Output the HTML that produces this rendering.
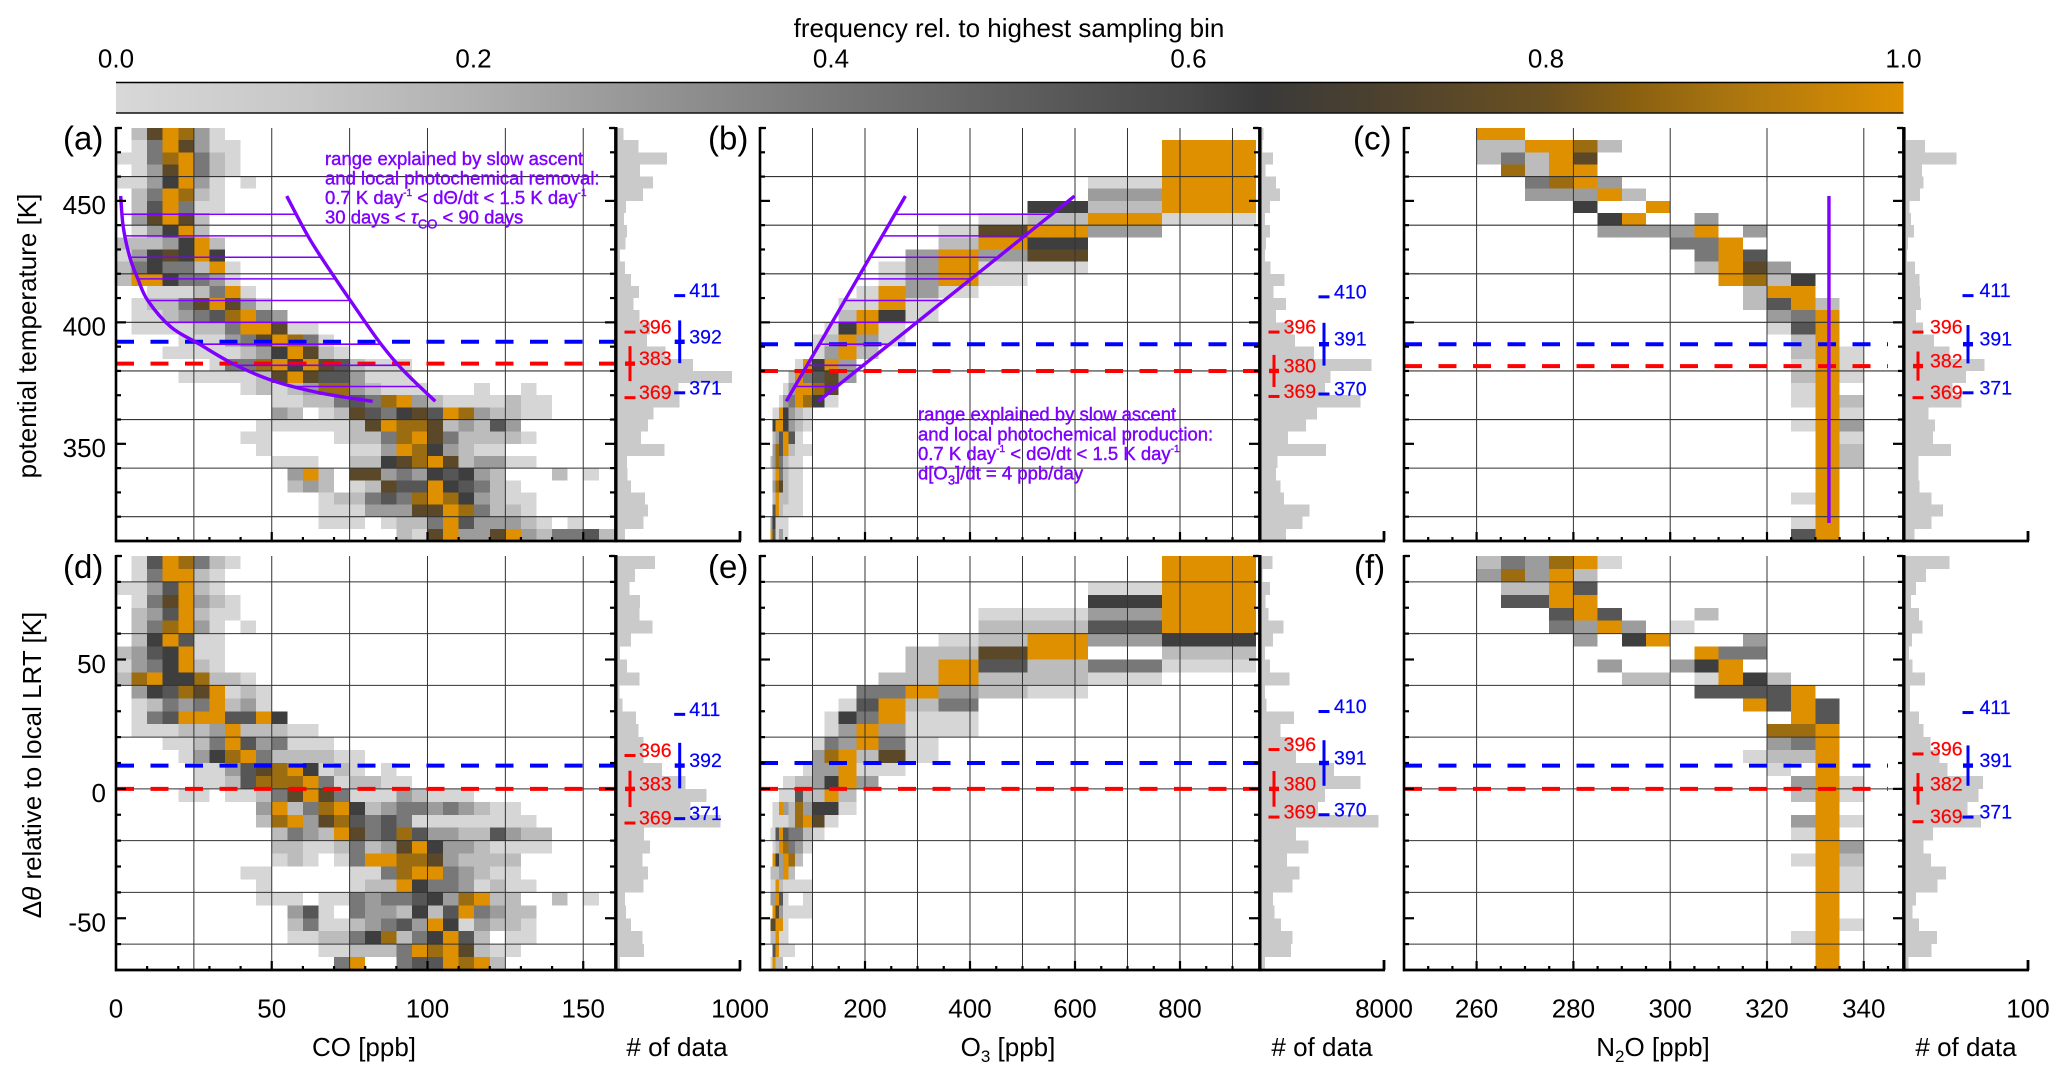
<!DOCTYPE html>
<html lang="en">
<head>
<meta charset="utf-8">
<title>Tracer frequency distributions versus potential temperature</title>
<style>
html,body{margin:0;padding:0;background:#fff;}
svg{display:block;font-family:"Liberation Sans",sans-serif;}
.t26{font-size:26px;fill:#000;}
.purple{font-size:18.5px;fill:#7f00ff;stroke:#7f00ff;stroke-width:.4px;}
</style>
</head>
<body>
<svg id="chart" xmlns="http://www.w3.org/2000/svg" width="2067" height="1082" viewBox="0 0 2067 1082">
  <defs><linearGradient id="cbGrad" x1="0" x2="1" y1="0" y2="0"></linearGradient></defs>
  <rect x="0" y="0" width="2067" height="1082" fill="#fff"/>
  <text class="t26" x="1009" y="37" text-anchor="middle">frequency rel. to highest sampling bin</text>
  <rect x="116" y="83" width="1787.5" height="30" fill="url(#cbGrad)"/>
  <line x1="116" x2="1903.5" y1="82.5" y2="82.5" stroke="#000" stroke-width="1.6"/>
  <line x1="116" x2="1903.5" y1="113" y2="113" stroke="#111" stroke-width="1.6"/>
  <g id="plots"></g>

  <text class="t26" transform="translate(36,336) rotate(-90)" text-anchor="middle">potential temperature [K]</text>
  <text class="t26" transform="translate(41,765) rotate(-90)" text-anchor="middle">Δ<tspan font-style="italic">θ</tspan> relative to local LRT [K]</text>

  <text class="t26" x="364" y="1056" text-anchor="middle">CO [ppb]</text>
  <text class="t26" x="1008" y="1056" text-anchor="middle">O<tspan dy="6" font-size="17">3</tspan><tspan dy="-6"> [ppb]</tspan></text>
  <text class="t26" x="1653" y="1056" text-anchor="middle">N<tspan dy="6" font-size="17">2</tspan><tspan dy="-6">O [ppb]</tspan></text>
  <text class="t26" x="677" y="1056" text-anchor="middle"># of data</text>
  <text class="t26" x="1322" y="1056" text-anchor="middle"># of data</text>
  <text class="t26" x="1966" y="1056" text-anchor="middle"># of data</text>

  <g id="annotations">
  <g class="purple">
    <text x="325" y="165">range explained by slow ascent</text>
    <text x="325" y="184.5">and local photochemical removal:</text>
    <text x="325" y="204">0.7 K day<tspan dy="-8" font-size="10">-1</tspan><tspan dy="8">  &lt; dΘ/dt &lt; 1.5 K day</tspan><tspan dy="-8" font-size="10">-1</tspan></text>
    <text x="325" y="223.5">30 days &lt; <tspan font-style="italic">τ</tspan><tspan dy="5" font-size="13">CO</tspan><tspan dy="-5"> &lt; 90 days</tspan></text>
  </g>
  <g class="purple">
    <text x="918" y="420.5">range explained by slow ascent</text>
    <text x="918" y="440.5">and local photochemical production:</text>
    <text x="918" y="460">0.7 K day<tspan dy="-8" font-size="10">-1</tspan><tspan dy="8">  &lt; dΘ/dt &lt; 1.5 K day</tspan><tspan dy="-8" font-size="10">-1</tspan></text>
    <text x="918" y="479.5">d[O<tspan dy="5" font-size="13">3</tspan><tspan dy="-5">]/dt = 4 ppb/day</tspan></text>
  </g>
  </g>
</svg>
<script>
// ---------- bins ----------
const coEdges = [0,5,10,15,20,25,30,35,40,45,50,55,60,65,70,75,80,85,90,95,100,105,110,115,120,125,130,135,140,145,150,155,160];
const o3Edges = [20,24,29.5,36,44,54,67,82,100,123,150,184,226,277,340,416,510,625,766,945];
const n2oEdges = [260,265,270,275,280,285,290,295,300,305,310,315,320,325,330,335,340];
const thetaEdges = [480,475,470,465,460,455,450,445,440,435,430,425,420,415,410,405,400,395,390,385,380,375,370,365,360,355,350,345,340,335,330,325,320,315,310];
const dThetaEdges = [90,85,80,75,70,65,60,55,50,45,40,35,30,25,20,15,10,5,0,-5,-10,-15,-20,-25,-30,-35,-40,-45,-50,-55,-60,-65,-70];

// frequency (relative to highest bin) represented by each level digit in the heat arrays
const levelFreq = [0,0.01,0.15,0.27,0.4,0.54,0.63,0.75,0.88,1];

// ---------- heat maps: rows top-down, columns follow the edges arrays ----------
const heatA = [
[0,2,7,9,8,3,1],
[0,1,4,9,7,3,1,1],
[1,1,4,8,9,4,2,1],
[0,1,3,7,9,4,2,1],
[1,1,3,6,9,3,1,0,1],
[0,2,4,9,8,2,1],
[0,2,5,9,4,1,1],
[0,3,7,9,7,2],
[0,1,3,6,9,2],
[2,2,2,3,6,9,2],
[1,3,6,7,6,9,6],
[2,4,6,4,4,2,9,1],
[2,9,9,6,4,4,3,1],
[0,0,1,1,1,2,4,9,1],
[0,1,2,2,4,7,9,7,3,1],
[0,1,1,2,3,4,5,8,9,4,3],
[0,1,1,1,1,2,2,4,9,9,7,1,1],
[0,0,0,0,1,1,1,3,4,7,9,8,4,1],
[0,0,0,1,1,1,1,1,2,3,6,9,7,2,1],
[0,0,0,0,0,0,1,4,4,8,9,6,9,7,5,2,1,1,1],
[0,0,0,0,1,1,1,1,1,2,7,9,7,5,5,3,1,1,1],
[0,0,0,0,0,0,0,0,1,2,1,2,3,8,8,3,2,1,1,1,0,0,0,1,0,0,1],
[0,0,0,0,0,0,0,0,0,0,1,1,2,2,4,5,4,8,9,3,2,1,1,1,1,2,1,1],
[0,0,0,0,0,0,0,0,0,0,3,2,0,1,2,7,5,4,6,7,5,9,8,3,2,2,1,1],
[0,0,0,0,0,0,0,0,0,1,1,1,1,1,1,2,7,9,8,8,7,2,3,2,5,3],
[0,0,0,0,0,0,0,0,1,1,0,0,0,0,1,2,2,4,8,9,7,4,2,2,2,2,1],
[0,0,0,0,0,0,0,0,0,1,0,0,0,0,0,1,1,3,9,8,6,3,2,1,1],
[0,0,0,0,0,0,0,0,0,0,1,1,1,0,0,2,2,6,7,8,9,7,2,3,3,1,1],
[0,0,0,0,0,0,0,0,0,0,0,3,9,2,0,7,7,3,4,3,6,5,6,3,2,0,0,0,2,0,1],
[0,0,0,0,0,0,0,0,0,0,0,2,3,2,0,1,2,7,5,5,9,6,5,4,2,1],
[0,0,0,0,0,0,0,0,0,0,0,0,0,1,2,2,4,5,4,8,9,8,6,3,2,1,1],
[0,0,0,0,0,0,0,0,0,0,0,0,0,1,1,1,3,3,3,7,7,9,8,4,2,2,1],
[0,0,0,0,0,0,0,0,0,0,0,0,0,1,1,1,0,1,2,2,4,9,5,3,3,3,2,1,0,1],
[0,0,0,0,0,0,0,0,0,0,0,0,0,0,0,0,0,0,2,1,7,9,3,3,7,9,3,2,4,4,5,2]
];
const heatB = [
[],
[0,0,0,0,0,0,0,0,0,0,0,0,0,0,0,0,0,0,9],
[0,0,0,0,0,0,0,0,0,0,0,0,0,0,0,0,0,0,9],
[0,0,0,0,0,0,0,0,0,0,0,0,0,0,0,0,0,0,9],
[0,0,0,0,0,0,0,0,0,0,0,0,0,0,0,0,0,1,9],
[0,0,0,0,0,0,0,0,0,0,0,0,0,0,0,0,0,3,9],
[0,0,0,0,0,0,0,0,0,0,0,0,0,0,0,0,6,2,9],
[0,0,0,0,0,0,0,0,0,0,0,0,0,0,0,1,2,9,1],
[0,0,0,0,0,0,0,0,0,0,0,0,0,0,1,7,9,3],
[0,0,0,0,0,0,0,0,0,0,0,0,0,0,2,9,6],
[0,0,0,0,0,0,0,0,0,0,0,0,0,3,9,3,7],
[0,0,0,0,0,0,0,0,0,0,0,0,1,3,9,1,1],
[0,0,0,0,0,0,0,0,0,0,0,0,1,3,9,1],
[0,0,0,0,0,0,0,0,0,0,0,1,9,3,1],
[0,0,0,0,0,0,0,0,0,0,1,1,9,1],
[0,0,0,0,0,0,0,0,0,0,2,9,6,1],
[0,0,0,0,0,0,0,0,0,1,6,9,1],
[0,0,0,0,0,0,0,0,1,2,9,3,1],
[0,0,0,0,0,0,0,0,1,3,9,2],
[0,0,0,0,0,0,1,9,6,9,3],
[0,0,0,0,0,2,9,4,5,7,3],
[0,0,0,0,1,3,9,9,8,7],
[0,0,0,1,3,4,9,8,6,1],
[0,1,1,9,6,3,2,1],
[0,6,9,9,6,3,2,1],
[0,2,3,5,9,5,1],
[0,3,8,5,9,2,1,1],
[2,3,8,4,2,1,1],
[0,2,9,4,2,1,1],
[0,3,8,7,2,1,1],
[0,2,9,2,2,1,1],
[0,5,9,2,1,1,1],
[3,6,1,1,1],
[9,5,1,3,1]
];
const heatC = [
[9,9],
[2,2,9,9,8,2],
[2,4,2,9,7],
[0,8,2,9,9],
[0,0,4,8,9,3],
[0,0,3,3,3,9,2],
[0,0,0,0,6,0,0,9],
[0,0,0,0,0,6,9,0,0,3],
[0,0,0,0,0,3,3,3,3,9,0,3],
[0,0,0,0,0,0,0,0,4,4,9],
[0,0,0,0,0,0,0,0,0,4,9,5],
[0,0,0,0,0,0,0,0,0,2,9,7,3],
[0,0,0,0,0,0,0,0,0,0,9,8,2,6],
[0,0,0,0,0,0,0,0,0,0,0,2,9,9],
[0,0,0,0,0,0,0,0,0,0,0,2,5,9,2],
[0,0,0,0,0,0,0,0,0,0,0,0,3,4,9],
[0,0,0,0,0,0,0,0,0,0,0,0,1,5,9],
[0,0,0,0,0,0,0,0,0,0,0,0,0,2,9],
[0,0,0,0,0,0,0,0,0,0,0,0,0,2,9,1],
[0,0,0,0,0,0,0,0,0,0,0,0,0,1,9,1],
[0,0,0,0,0,0,0,0,0,0,0,0,0,2,9,1],
[0,0,0,0,0,0,0,0,0,0,0,0,0,1,9],
[0,0,0,0,0,0,0,0,0,0,0,0,0,1,9,2],
[0,0,0,0,0,0,0,0,0,0,0,0,0,0,9,1],
[0,0,0,0,0,0,0,0,0,0,0,0,0,1,9,3],
[0,0,0,0,0,0,0,0,0,0,0,0,0,0,9,1],
[0,0,0,0,0,0,0,0,0,0,0,0,0,0,9,2],
[0,0,0,0,0,0,0,0,0,0,0,0,0,0,9,2],
[0,0,0,0,0,0,0,0,0,0,0,0,0,0,9],
[0,0,0,0,0,0,0,0,0,0,0,0,0,0,9],
[0,0,0,0,0,0,0,0,0,0,0,0,0,1,9],
[0,0,0,0,0,0,0,0,0,0,0,0,0,0,9],
[0,0,0,0,0,0,0,0,0,0,0,0,0,1,9],
[0,0,0,0,0,0,0,0,0,0,0,0,0,5,9]
];
const heatD = [
[0,1,5,9,8,4,2,1],
[0,1,4,9,9,2,1],
[1,1,3,5,9,2,1],
[0,1,4,7,9,3,2,1],
[0,2,3,5,9,2,1,1],
[0,2,4,8,9,3,1,0,1],
[0,2,6,9,5,1,1],
[2,3,5,6,9,1,1],
[1,3,4,6,9,2,1],
[2,8,9,6,6,8,2,2,1],
[0,3,6,5,8,7,9,1,2,1],
[0,1,2,4,3,4,9,2,3,1],
[0,1,4,5,9,9,9,5,5,9,6],
[0,1,1,1,2,2,3,9,2,2,2,1,1],
[0,0,0,1,1,2,4,9,5,3,4,1,1,1],
[0,0,0,0,1,3,6,8,9,4,2,2,2,2,1,1],
[0,0,0,0,0,1,1,3,5,7,8,9,6,1,2,1,0,1],
[0,0,0,0,0,1,1,2,5,8,8,8,9,4,1,2,2,1,1],
[0,0,0,0,1,1,0,1,1,2,4,7,9,7,4,1,1,1,3,2,1,1,1],
[0,0,0,0,0,0,0,0,0,3,9,2,4,8,9,6,2,3,4,4,3,4,3,2,1,1],
[0,0,0,0,0,0,0,0,0,2,8,9,3,7,8,5,4,5,4,1,1,1,1,1,1,1,1],
[0,0,0,0,0,0,0,0,0,0,2,4,3,2,9,7,4,5,8,5,3,3,2,2,5,3,2,2],
[0,0,0,0,0,0,0,0,0,0,2,2,1,1,2,4,2,3,7,9,6,3,3,2,1,1,1,1],
[0,0,0,0,0,0,0,0,0,0,1,2,1,0,1,4,9,9,8,8,7,3,2,2,2,2],
[0,0,0,0,0,0,0,0,1,1,0,0,0,0,0,1,1,4,8,9,9,4,3,2,1,1],
[0,0,0,0,0,0,0,0,0,1,0,0,0,0,0,1,2,2,9,6,4,4,3,1,2,1,1],
[0,0,0,0,0,0,0,0,0,1,1,1,0,1,1,4,3,4,4,5,6,3,8,9,2,2,0,0,2,0,1],
[0,0,0,0,0,0,0,0,0,0,0,3,5,1,0,4,3,3,2,6,2,5,9,4,3,2,2],
[0,0,0,0,0,0,0,0,0,0,0,2,4,1,1,2,3,4,5,3,9,6,1,3,2,2,1],
[0,0,0,0,0,0,0,0,0,0,0,1,1,2,2,4,6,8,2,4,6,9,5,2,0,1,1],
[0,0,0,0,0,0,0,0,0,0,0,0,0,1,1,2,2,2,4,9,8,9,7,2,1,1],
[0,0,0,0,0,0,0,0,0,0,0,0,0,0,4,9,0,0,4,5,5,9,8,9,2]
];
const heatE = [
[0,0,0,0,0,0,0,0,0,0,0,0,0,0,0,0,0,0,9],
[0,0,0,0,0,0,0,0,0,0,0,0,0,0,0,0,0,0,9],
[0,0,0,0,0,0,0,0,0,0,0,0,0,0,0,0,0,1,9],
[0,0,0,0,0,0,0,0,0,0,0,0,0,0,0,0,0,6,9],
[0,0,0,0,0,0,0,0,0,0,0,0,0,0,0,1,1,3,9],
[0,0,0,0,0,0,0,0,0,0,0,0,0,0,0,2,2,5,9],
[0,0,0,0,0,0,0,0,0,0,0,0,0,0,1,2,9,3,6],
[0,0,0,0,0,0,0,0,0,0,0,0,0,2,2,7,9,0,2],
[0,0,0,0,0,0,0,0,0,0,0,0,0,2,9,5,2,4,1],
[0,0,0,0,0,0,0,0,0,0,0,0,2,2,9,2,2,1],
[0,0,0,0,0,0,0,0,0,0,0,4,4,9,3,2,1],
[0,0,0,0,0,0,0,0,0,0,1,5,9,2,4],
[0,0,0,0,0,0,0,0,0,1,6,4,9,1,1],
[0,0,0,0,0,0,0,0,0,1,3,9,3,1,1],
[0,0,0,0,0,0,0,0,1,4,3,9,4,1],
[0,0,0,0,0,0,0,0,3,8,9,2,7,1],
[0,0,0,0,0,0,0,1,3,3,9,1,1],
[0,0,0,0,1,1,2,2,3,6,9,3],
[0,0,0,1,1,1,5,2,2,9,2],
[0,1,1,9,3,2,8,3,6,6,1],
[0,1,1,1,1,2,8,9,7,1],
[1,1,5,9,5,4,4,2,1],
[0,1,2,9,8,4,3,1],
[0,9,6,3,9,8,2],
[2,2,2,3,9,2],
[1,1,9,2,1,1,1,1],
[3,3,9,5,1,0,0,1],
[0,9,7,3,1,1,1,1],
[7,7,9,9,1],
[2,2,9,1,1],
[0,5,9,1,1,1],
[1,9,2,2]
];
const heatF = [
[2,4,3,8,9,1],
[3,8,3,9,2],
[0,2,2,9,5],
[0,5,5,9,9],
[0,0,0,5,9,5,0,0,0,2],
[0,0,0,4,3,9,3,0,1],
[0,0,0,0,3,0,6,9,0,0,0,3],
[0,0,0,0,0,0,0,0,0,9,4,4],
[0,0,0,0,0,3,0,0,3,6,9],
[0,0,0,0,0,0,2,2,0,1,9,6,2],
[0,0,0,0,0,0,0,0,0,5,5,5,5,9],
[0,0,0,0,0,0,0,0,0,0,0,9,5,9,5],
[0,0,0,0,0,0,0,0,0,0,0,0,0,9,5],
[0,0,0,0,0,0,0,0,0,0,0,0,8,8,9],
[0,0,0,0,0,0,0,0,0,0,0,0,3,4,9],
[0,0,0,0,0,0,0,0,0,0,0,1,2,2,9],
[0,0,0,0,0,0,0,0,0,0,0,0,1,0,9],
[0,0,0,0,0,0,0,0,0,0,0,0,0,3,9,1],
[0,0,0,0,0,0,0,0,0,0,0,0,0,2,9,1],
[0,0,0,0,0,0,0,0,0,0,0,0,0,0,9],
[0,0,0,0,0,0,0,0,0,0,0,0,0,3,9,1],
[0,0,0,0,0,0,0,0,0,0,0,0,0,1,9],
[0,0,0,0,0,0,0,0,0,0,0,0,0,0,9,3],
[0,0,0,0,0,0,0,0,0,0,0,0,0,1,9,2],
[0,0,0,0,0,0,0,0,0,0,0,0,0,0,9,1],
[0,0,0,0,0,0,0,0,0,0,0,0,0,0,9,1],
[0,0,0,0,0,0,0,0,0,0,0,0,0,0,9],
[0,0,0,0,0,0,0,0,0,0,0,0,0,0,9],
[0,0,0,0,0,0,0,0,0,0,0,0,0,0,9,1],
[0,0,0,0,0,0,0,0,0,0,0,0,0,1,9],
[0,0,0,0,0,0,0,0,0,0,0,0,0,0,9],
[0,0,0,0,0,0,0,0,0,0,0,0,0,0,9]
];

// ---------- histograms (# of data per vertical bin, top-down) ----------
const histA = [54,177,408,190,293,212,76,60,82,73,27,68,114,182,136,185,272,245,394,617,937,503,508,299,253,198,386,82,87,114,231,253,217,68];
const histB = [202,144,806,346,1008,1267,634,288,634,374,288,662,1555,864,1642,1008,2016,2246,3456,7200,4522,4176,6480,3658,2938,1786,4234,1094,1008,1296,1526,3168,2736,1670];
const histC = [0.7,16.3,41.7,13.8,14.9,12,3.6,4.7,7.2,2.5,1.8,8,11.6,12,13,9,14.5,23.6,36.2,64.5,49.6,38.8,46,19.2,24.3,22.8,37.3,10.9,10.9,11.6,21.7,30.8,21.7,7.6];
const histD = [312,149,103,190,185,291,114,27,82,185,22,49,158,177,217,217,367,557,728,598,842,223,272,209,253,217,68,76,114,209,223,27];
const histE = [778,144,634,346,518,1498,806,288,634,1872,288,403,2160,1296,2016,2304,4752,6480,4176,3744,7632,2304,3110,1728,2534,2074,806,922,1325,2074,1987,288];
const histF = [36.2,17,9,4.7,11.2,14.1,5.8,3.3,6.2,16.3,4,4,11.2,14.9,20.7,27.9,34.4,63.4,59.8,50.7,61.6,22.8,14.9,21,33.3,26.4,9,6.2,11.2,26.1,21.7,2.9];

// ---------- tropopause statistics: [low, mean, high, half-length of mean bar] in axis units ----------
const redStatsA = [369,383,396,7.2];
const blueStatsA = [371,392,411,8.8];
const redStatsB = [369.5,380,396,6.6];
const blueStatsB = [370.5,391,410.5,8.8];
const redStatsC = [369,382,396,6];
const blueStatsC = [371,391,411,7.9];
const redStatsD = [-13.2,0,12.9,7];
const blueStatsD = [-11.5,9,28.8,8.8];
const redStatsE = [-10.9,0,15.2,6.9];
const blueStatsE = [-10,10,29.9,8.8];
const redStatsF = [-12.7,0,13.5,6.1];
const blueStatsF = [-10.9,9,29.5,7.8];
const redLabelsA = ['369','383','396'];
const blueLabelsA = ['371','392','411'];
const redLabelsB = ['369','380','396'];
const blueLabelsB = ['370','391','410'];
const redLabelsC = ['369','382','396'];
const blueLabelsC = ['371','391','411'];

// ---------- model curves ----------
const coLeftPpb = [1.5,2.35,4.5,7,10.2,17.7,26.8,37.5,50.3,65.3,82.4];
const coLeftTheta = [452,439,426.5,418,409,398,391,383,376,371,367.5];
const coRightPpb = [54.8,62,69.6,75.4,84.5,92,102.5];
const coRightTheta = [452,434.7,419.6,408.7,392,380.5,367.5];
const o3LeftPpb = [50,277];
const o3RightPpb = [111,599];
const o3LineTheta = [367.5,452];
const n2oLinePpb = [332.8,332.8];
const n2oLineTheta = [317.4,452];
const hatchTheta = [444.5,435.6,426.8,417.9,409,400,391,382.3,373.6];

// ---------- ticks ----------
const thetaTicks = [320,330,340,350,360,370,380,390,400,410,420,430,440,450,460,470,480];
const thetaMajor = [350,400,450];
const thetaGrid = [320,340,360,380,400,420,440,460];
const dThetaTicks = [-60,-50,-40,-30,-20,-10,0,10,20,30,40,50,60,70,80,90];
const dThetaMajor = [-50,0,50];
const dThetaGrid = [-60,-40,-20,0,20,40,60,80];
const coTicks = [10,20,30,40,50,60,70,80,90,100,110,120,130,140,150];
const coMajor = [50,100,150];
const coGrid = [25,50,75,100,125,150];
const coTickLabels = [0,50,100,150];
const o3Ticks = [50,100,150,200,250,300,350,400,450,500,550,600,650,700,750,800,850,900];
const o3Major = [200,400,600,800];
const o3Grid = [100,200,300,400,500,600,700,800,900];
const o3TickLabels = [200,400,600,800];
const n2oTicks = [250,255,260,265,270,275,280,285,290,295,300,305,310,315,320,325,330,335,340,345];
const n2oMajor = [260,280,300,320,340];
const n2oGrid = [260,280,300,320,340];
const n2oTickLabels = [260,280,300,320,340];
const colorbarTicks = [0,0.2,0.4,0.6,0.8,1];
const colorbarLabels = ['0.0','0.2','0.4','0.6','0.8','1.0'];

// ---------- colormap ----------
const cmapPos = [0,0.1,0.2,0.3,0.4,0.5,0.6,0.64,0.7,0.8,0.85,0.9,1];
const cmapRgb = [[216,216,216],[200,200,200],[176,176,176],[148,148,148],[120,120,120],[95,95,95],[72,72,72],[58,58,58],[74,64,48],[106,80,32],[138,96,16],[168,116,16],[223,144,0]];
function colormap(v){
  let i=0;
  while(i<cmapPos.length-2 && v>cmapPos[i+1]) i++;
  const t=Math.max(0,Math.min(1,(v-cmapPos[i])/(cmapPos[i+1]-cmapPos[i])));
  const c=cmapRgb[i].map((a,k)=>Math.round(a+(cmapRgb[i+1][k]-a)*t));
  return 'rgb('+c.join(',')+')';
}

const NS='http://www.w3.org/2000/svg';
function mk(parent,tag,attrs){
  const e=document.createElementNS(NS,tag);
  for(const k in attrs) e.setAttribute(k,attrs[k]);
  parent.appendChild(e);
  return e;
}
function linear(d0,d1,r0,r1){ return v=>r0+(v-d0)/(d1-d0)*(r1-r0); }
function interpX(xs,ths,th){
  for(let i=0;i<ths.length-1;i++){
    const a=ths[i],b=ths[i+1];
    if((th>=Math.min(a,b))&&(th<=Math.max(a,b))) return xs[i]+(th-a)/(b-a)*(xs[i+1]-xs[i]);
  }
  return xs[0];
}
// smooth Catmull-Rom path through scaled points
function smoothPath(pts){
  let d='M'+pts[0][0]+' '+pts[0][1];
  for(let i=0;i<pts.length-1;i++){
    const p0=pts[Math.max(0,i-1)],p1=pts[i],p2=pts[i+1],p3=pts[Math.min(pts.length-1,i+2)];
    const c1x=p1[0]+(p2[0]-p0[0])/6,c1y=p1[1]+(p2[1]-p0[1])/6;
    const c2x=p2[0]-(p3[0]-p1[0])/6,c2y=p2[1]-(p3[1]-p1[1])/6;
    d+=' C'+c1x+' '+c1y+' '+c2x+' '+c2y+' '+p2[0]+' '+p2[1];
  }
  return d;
}

const root=document.getElementById('chart');
const plots=document.getElementById('plots');

// colorbar gradient and ticks
const grad=document.getElementById('cbGrad');
cmapPos.forEach((p,i)=>{
  const s=mk(grad,'stop',{offset:p,'stop-color':colormap(p)});
  
  
});
const cbX=linear(0,1,116,1903.5);
colorbarTicks.forEach((v,i)=>{
  const t=mk(plots,'text',{x:cbX(v),y:67.5,'text-anchor':'middle','font-size':26});
  
  
  t.textContent=colorbarLabels[i];
});

const rowsTop={y0:128,y1:541,d0:480,d1:310};
const rowsBottom={y0:556,y1:970,d0:90,d1:-70};
const colCO={x0:116,x1:615,d0:0,d1:160.2,hx0:616.7,hx1:740,hmax:1000,edges:coEdges,ticks:coTicks,major:coMajor,grid:coGrid,dashEnd:160.2,tickLabels:coTickLabels,histLabel:'1000',redX:630,blueX:679.7,redTextX:639,blueTextX:689.3};
const colO3={x0:760,x1:1259,d0:0,d1:950.5,hx0:1260.4,hx1:1384,hmax:8000,edges:o3Edges,ticks:o3Ticks,major:o3Major,grid:o3Grid,dashEnd:950.5,tickLabels:o3TickLabels,histLabel:'8000',redX:1274,blueX:1324,redTextX:1283.6,blueTextX:1334};
const colN2O={x0:1404,x1:1903,d0:245,d1:348.1,hx0:1905,hx1:2028,hmax:100,edges:n2oEdges,ticks:n2oTicks,major:n2oMajor,grid:n2oGrid,dashEnd:345,tickLabels:n2oTickLabels,histLabel:'100',redX:1918,blueX:1968,redTextX:1930,blueTextX:1979.5};

const panels=[
 {id:'a',col:colCO,row:rowsTop,edges:thetaEdges,heat:heatA,hist:histA,red:redStatsA,blue:blueStatsA,redL:redLabelsA,blueL:blueLabelsA,ticks:thetaTicks,major:thetaMajor,grid:thetaGrid,yLabels:true,lx:63,ly:149.5},
 {id:'b',col:colO3,row:rowsTop,edges:thetaEdges,heat:heatB,hist:histB,red:redStatsB,blue:blueStatsB,redL:redLabelsB,blueL:blueLabelsB,ticks:thetaTicks,major:thetaMajor,grid:thetaGrid,yLabels:false,lx:708,ly:149.5},
 {id:'c',col:colN2O,row:rowsTop,edges:thetaEdges,heat:heatC,hist:histC,red:redStatsC,blue:blueStatsC,redL:redLabelsC,blueL:blueLabelsC,ticks:thetaTicks,major:thetaMajor,grid:thetaGrid,yLabels:false,lx:1353,ly:149.5},
 {id:'d',col:colCO,row:rowsBottom,edges:dThetaEdges,heat:heatD,hist:histD,red:redStatsD,blue:blueStatsD,redL:redLabelsA,blueL:blueLabelsA,ticks:dThetaTicks,major:dThetaMajor,grid:dThetaGrid,yLabels:true,xLabels:true,lx:63,ly:578},
 {id:'e',col:colO3,row:rowsBottom,edges:dThetaEdges,heat:heatE,hist:histE,red:redStatsE,blue:blueStatsE,redL:redLabelsB,blueL:blueLabelsB,ticks:dThetaTicks,major:dThetaMajor,grid:dThetaGrid,yLabels:false,xLabels:true,lx:708,ly:578},
 {id:'f',col:colN2O,row:rowsBottom,edges:dThetaEdges,heat:heatF,hist:histF,red:redStatsF,blue:blueStatsF,redL:redLabelsC,blueL:blueLabelsC,ticks:dThetaTicks,major:dThetaMajor,grid:dThetaGrid,yLabels:false,xLabels:true,lx:1354,ly:578}
];

panels.forEach(p=>{
  const c=p.col,r=p.row;
  const X=linear(c.d0,c.d1,c.x0,c.x1);
  const Y=linear(r.d0,r.d1,r.y0,r.y1);
  const H=linear(0,c.hmax,c.hx0,c.hx1);
  const g=mk(plots,'g',{});
  
  

  // heat cells
  p.heat.forEach((row,ri)=>{
    row.forEach((lvl,ci)=>{
      if(!lvl) return;
      const x0=X(c.edges[ci]),x1=X(c.edges[ci+1]);
      const y0=Y(p.edges[ri]),y1=Y(p.edges[ri+1]);
      const cell=mk(g,'rect',{x:x0,y:y0,width:x1-x0,height:y1-y0,fill:colormap(levelFreq[lvl]),'shape-rendering':'crispEdges'});
      
      
    });
  });

  // histogram
  p.hist.forEach((v,ri)=>{
    const y0=Y(p.edges[ri]),y1=Y(p.edges[ri+1]);
    const bar=mk(g,'rect',{x:c.hx0,y:y0,width:H(v)-c.hx0,height:y1-y0,fill:'#cacaca','shape-rendering':'crispEdges'});
    
    
  });

  // grid
  c.grid.forEach(v=>{
    const l=mk(g,'line',{x1:X(v),x2:X(v),y1:r.y0,y2:r.y1,stroke:'#333','stroke-width':1});
    
    
  });
  p.grid.forEach(v=>{
    const l=mk(g,'line',{x1:c.x0,x2:c.x1,y1:Y(v),y2:Y(v),stroke:'#333','stroke-width':1.1});
    
    
  });

  // dashed mean lines
  const blueDash=mk(g,'line',{x1:c.x0,x2:X(c.dashEnd),y1:Y(p.blue[1]),y2:Y(p.blue[1]),stroke:'#0000ff','stroke-width':4,'stroke-dasharray':'18 16.5'});
  
  
  const redDash=mk(g,'line',{x1:c.x0,x2:X(c.dashEnd),y1:Y(p.red[1]),y2:Y(p.red[1]),stroke:'#ff0000','stroke-width':4,'stroke-dasharray':'18 16.5'});
  
  

  // model lines in top panels
  const purple='#7f00ff';
  const curve=(xs,ths,name)=>{
    const pts=xs.map((v,i)=>[X(v),Y(ths[i])]);
    const pl=mk(g,'path',{d:smoothPath(pts),fill:'none',stroke:purple,'stroke-width':3.4,'stroke-linejoin':'round'});
    
    
  };
  const hatch=(xa,ta,xb,tb)=>{
    hatchTheta.forEach(th=>{
      const h=mk(g,'line',{x1:X(interpX(xa,ta,th)),x2:X(interpX(xb,tb,th)),y1:Y(th),y2:Y(th),stroke:purple,'stroke-width':1.6});
      
      
    });
  };
  if(p.id==='a'){
    hatch(coLeftPpb,coLeftTheta,coRightPpb,coRightTheta);
    curve(coLeftPpb,coLeftTheta,'model-curve-lower');
    curve(coRightPpb,coRightTheta,'model-curve-upper');
  }
  if(p.id==='b'){
    hatch(o3LeftPpb,o3LineTheta,o3RightPpb,o3LineTheta);
    curve(o3LeftPpb,o3LineTheta,'model-line-upper');
    curve(o3RightPpb,o3LineTheta,'model-line-lower');
  }
  if(p.id==='c'){
    curve(n2oLinePpb,n2oLineTheta,'model-line-n2o');
  }

  // axes
  const axisL=(x1,y1,x2,y2,w,name)=>{
    const l=mk(g,'line',{x1:x1,y1:y1,x2:x2,y2:y2,stroke:'#000','stroke-width':w});
    
    
  };
  axisL(c.x0,r.y0-1,c.x0,r.y1+1.2,2.6,'y-axis-left');
  axisL(c.x1+0.8,r.y0-1,c.x1+0.8,r.y1+1.2,3.4,'y-axis-right');
  axisL(c.x0-1,r.y1,c.hx1+1,r.y1,2.8,'x-axis');
  axisL(c.hx1,r.y1-10,c.hx1,r.y1,2.8,'histogram-end-tick');
  axisL(c.x0,r.y0,c.x0+6,r.y0,2.2,'y-tick-top-left');
  axisL(c.x1-6,r.y0,c.x1,r.y0,2.2,'y-tick-top-right');
  p.ticks.forEach(v=>{
    const len=p.major.includes(v)?10:5;
    axisL(c.x0,Y(v),c.x0+len,Y(v),2.2,'y-tick-left');
    axisL(c.x1-len,Y(v),c.x1,Y(v),2.2,'y-tick-right');
  });
  c.ticks.forEach(v=>{
    const len=c.major.includes(v)?9:4;
    axisL(X(v),r.y1-len,X(v),r.y1,2.2,'x-tick');
  });

  // stat markers
  const stats=(s,labels,x,tx,col,nm)=>{
    [0,2].forEach(i=>{
      const t=mk(g,'rect',{x:x-5.5,y:Y(s[i])-1.5,width:11,height:3,fill:col});
      
      
    });
    const v=mk(g,'rect',{x:x-1.5,y:Y(s[1]+s[3]),width:3,height:Y(s[1]-s[3])-Y(s[1]+s[3]),fill:col});
    
    
    const m=mk(g,'rect',{x:x-5,y:Y(s[1])-2.2,width:10,height:4.4,fill:col});
    
    
    [0,1,2].forEach(i=>{
      const t=mk(g,'text',{x:tx,y:Y(s[i])+1.5,'font-size':19.5,fill:col,stroke:col,'stroke-width':0.2});
      
      
      t.textContent=labels[i];
    });
  };
  stats(p.red,p.redL,c.redX,c.redTextX,'#ff0000','red');
  stats(p.blue,p.blueL,c.blueX,c.blueTextX,'#0000ff','blue');

  // labels
  if(p.yLabels){
    p.major.forEach(v=>{
      const t=mk(g,'text',{x:106,y:Y(v)+13.3,'text-anchor':'end','font-size':26});
      
      
      t.textContent=v;
    });
  }
  if(p.xLabels){
    c.tickLabels.forEach(v=>{
      const t=mk(g,'text',{x:X(v),y:1017.3,'text-anchor':'middle','font-size':26});
      
      
      t.textContent=v;
    });
    const hl=mk(g,'text',{x:c.hx1,y:1017.3,'text-anchor':'middle','font-size':26});
    
    
    hl.textContent=c.histLabel;
  }
  const pl=mk(g,'text',{x:p.lx,y:p.ly,'font-size':33});
  
  
  pl.textContent='('+p.id+')';
});
</script>
</body>
</html>
